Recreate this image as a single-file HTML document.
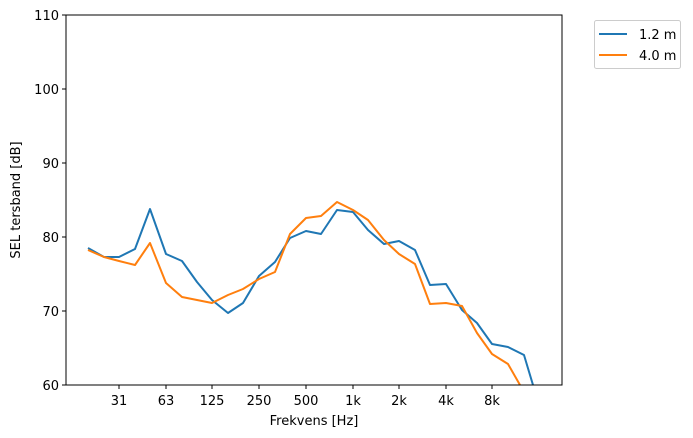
<!DOCTYPE html>
<html><head><meta charset="utf-8"><style>body{margin:0;background:#fff}svg{display:block}text{font-family:"DejaVu Sans","Liberation Sans",sans-serif;font-size:13px;fill:#000}</style></head><body>
<svg width="693" height="438" viewBox="0 0 693 438">
<defs><clipPath id="c"><rect x="66" y="15" width="496" height="370"/></clipPath></defs>
<g clip-path="url(#c)" fill="none" stroke-width="2" stroke-linejoin="round">
<polyline stroke="#1f77b4" points="88,248 104,257 119,257 135,249 150,209 166,254 182,261 197,282 212,300 228,313 243,303 259,276 275,262 290,238 306,231 321,234 337,210 353,212 368,230 384,244 399,241 415,250 430,285 446,284 462,310 477,323 492,344 508,347 524,355 539,405"/>
<polyline stroke="#ff7f0e" points="88,250 104,257 119,261 135,265 150,243 166,283 182,297 197,300 212,303 228,295 243,289 259,279 275,272 290,234 306,218 321,216 337,202 353,210 368,220 384,240 399,254 415,264 430,304 446,303 462,306 477,333 492,354 508,364 524,392"/>
</g>
<rect x="66" y="15" width="496" height="370" fill="none" stroke="#000" stroke-width="1"/>
<g stroke="#000">
<line x1="66" y1="385" x2="62" y2="385"/><line x1="66" y1="311" x2="62" y2="311"/><line x1="66" y1="237" x2="62" y2="237"/><line x1="66" y1="163" x2="62" y2="163"/><line x1="66" y1="89" x2="62" y2="89"/><line x1="66" y1="15" x2="62" y2="15"/>
<line x1="119" y1="385" x2="119" y2="389"/><line x1="166" y1="385" x2="166" y2="389"/><line x1="212" y1="385" x2="212" y2="389"/><line x1="259" y1="385" x2="259" y2="389"/><line x1="306" y1="385" x2="306" y2="389"/><line x1="353" y1="385" x2="353" y2="389"/><line x1="399" y1="385" x2="399" y2="389"/><line x1="446" y1="385" x2="446" y2="389"/><line x1="492" y1="385" x2="492" y2="389"/>
</g>
<g text-anchor="end">
<text x="59" y="390">60</text><text x="59" y="316">70</text><text x="59" y="242">80</text><text x="59" y="168">90</text><text x="59" y="94">100</text><text x="59" y="20">110</text>
</g>
<g text-anchor="middle">
<text x="119" y="405">31</text><text x="166" y="405">63</text><text x="212" y="405">125</text><text x="259" y="405">250</text><text x="306" y="405">500</text><text x="353" y="405">1k</text><text x="399" y="405">2k</text><text x="446" y="405">4k</text><text x="492" y="405">8k</text>
<text x="314" y="425">Frekvens [Hz]</text>
<text transform="translate(20,200) rotate(-90)">SEL tersband [dB]</text>
</g>
<rect x="594.5" y="20.5" width="86" height="48" rx="2" fill="#fff" stroke="#ccc"/>
<line x1="599" y1="34" x2="627" y2="34" stroke="#1f77b4" stroke-width="2"/>
<line x1="599" y1="55" x2="627" y2="55" stroke="#ff7f0e" stroke-width="2"/>
<text x="639" y="39">1.2 m</text><text x="639" y="60">4.0 m</text>
</svg>
</body></html>
